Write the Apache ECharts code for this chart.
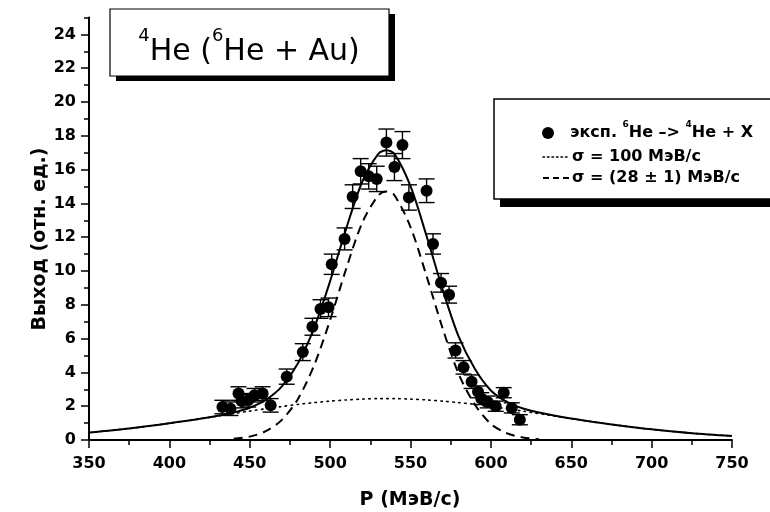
<!DOCTYPE html>
<html>
<head>
<meta charset="utf-8">
<script src="https://cdn.jsdelivr.net/npm/echarts@6/dist/echarts.min.js"></script>
<style>
  html, body { margin: 0; padding: 0; background: #ffffff; }
  #chart { width: 770px; height: 512px; }
</style>
</head>
<body>
<div id="chart"></div>
<script>
// Measured 4He momentum distribution: momentum (MeV/c), yield, yield uncertainty
const momentum = [433, 438, 443, 445, 449, 453, 458, 463, 473, 483, 489, 494, 499,
  501, 509, 514, 519, 524, 529, 535, 540, 545, 549, 560, 564, 569, 574, 578,
  583, 588, 592, 594, 598, 603, 608, 613, 618];
const yieldVal = [1.95, 1.85, 2.75, 2.3, 2.35, 2.65, 2.75, 2.05, 3.75, 5.2, 6.7, 7.75, 7.85,
  10.4, 11.9, 14.4, 15.9, 15.6, 15.45, 17.6, 16.15, 17.45, 14.35, 14.75, 11.6, 9.3, 8.6, 5.3,
  4.3, 3.45, 2.85, 2.45, 2.25, 2.0, 2.8, 1.9, 1.2];
const yieldErr = [0.4, 0.4, 0.4, 0.4, 0.4, 0.4, 0.4, 0.4, 0.45, 0.5, 0.5, 0.55, 0.55,
  0.6, 0.65, 0.7, 0.75, 0.75, 0.75, 0.8, 0.8, 0.8, 0.75, 0.7, 0.6, 0.55, 0.5, 0.45,
  0.4, 0.4, 0.35, 0.35, 0.35, 0.3, 0.3, 0.3, 0.3];

// Fit curves: total fit and the wide (sigma = 100) component on a common grid
const curveP = [350, 375, 400, 425, 440, 450, 460, 470, 480, 490, 500, 510, 520, 530, 535,
  540, 550, 560, 570, 580, 590, 600, 610, 620, 640, 660, 680, 700, 725, 750];
const fitTotal = [0.44, 0.68, 0.99, 1.34, 1.63, 1.91, 2.37, 3.17, 4.54, 6.62, 9.40, 12.51, 15.28, 16.93, 17.15,
  16.93, 15.02, 12.07, 8.90, 6.11, 4.21, 2.93, 2.25, 1.86, 1.43, 1.12, 0.86, 0.63, 0.40, 0.24];
const wideComp = [0.44, 0.68, 0.99, 1.34, 1.56, 1.71, 1.85, 1.98, 2.11, 2.21, 2.30, 2.37, 2.42, 2.45, 2.45,
  2.45, 2.42, 2.37, 2.30, 2.21, 2.11, 1.98, 1.85, 1.71, 1.41, 1.12, 0.86, 0.63, 0.40, 0.24];

// Narrow (sigma = 28) component
const narrowP = [440, 450, 460, 470, 480, 490, 500, 510, 520, 530, 535, 540, 550, 560, 570, 580, 590, 600, 610, 620, 630];
const narrowComp = [0.07, 0.20, 0.52, 1.19, 2.43, 4.41, 7.10, 10.14, 12.86, 14.48, 14.7, 14.48, 12.6, 9.7, 6.6, 3.9, 2.1, 0.95, 0.4, 0.15, 0.05];

// Axis ticks
const yMajorTicks = [0, 2, 4, 6, 8, 10, 12, 14, 16, 18, 20, 22, 24];
const yMinorTicks = [1, 3, 5, 7, 9, 11, 13, 15, 17, 19, 21, 23, 25];

const FONT = 'DejaVu Sans';
const zip = (a, b) => a.map((v, i) => [v, b[i]]);

const chart = echarts.init(document.getElementById('chart'), null, { renderer: 'canvas' });

const axisLine = { show: true, onZero: false, lineStyle: { color: '#000', width: 2 } };

chart.setOption({
  animation: false,
  backgroundColor: '#fff',
  grid: { left: 89, right: 38, top: 17.5, bottom: 72, containLabel: false, outerBoundsMode: 'none' },
  xAxis: {
    type: 'value', min: 350, max: 750, interval: 50,
    axisLine: axisLine,
    axisTick: { show: true, inside: false, length: 8, lineStyle: { color: '#000', width: 1.5 } },
    minorTick: { show: true, splitNumber: 2, length: 5, lineStyle: { color: '#000', width: 1.5 } },
    axisLabel: { fontFamily: FONT, fontWeight: 'bold', fontSize: 16, color: '#000', margin: 16 },
    splitLine: { show: false }, minorSplitLine: { show: false }
  },
  yAxis: [{
    type: 'value', min: 0, max: 25, interval: 2,
    axisLine: axisLine,
    axisTick: { show: true, length: 8, customValues: yMajorTicks, lineStyle: { color: '#000', width: 1.5 } },
    axisLabel: {
      fontFamily: FONT, fontWeight: 'bold', fontSize: 16, color: '#000', margin: 13,
      customValues: yMajorTicks,
      formatter: v => (v % 2 === 0 ? String(v) : '')
    },
    splitLine: { show: false }
  }, {
    type: 'value', min: 0, max: 25, position: 'left', offset: 0,
    axisLine: { show: false },
    axisTick: { show: true, length: 5, customValues: yMinorTicks, lineStyle: { color: '#000', width: 1.5 } },
    axisLabel: { show: false },
    splitLine: { show: false }
  }],
  series: [
    {
      name: 'wide', type: 'line', data: zip(curveP, wideComp), smooth: 0.3,
      showSymbol: false, symbol: 'none',
      lineStyle: { color: '#000', width: 1.6, type: [1.5, 4.5], cap: 'round' }, z: 2
    },
    {
      name: 'narrow', type: 'line', data: zip(narrowP, narrowComp), smooth: 0.3,
      showSymbol: false, symbol: 'none',
      lineStyle: { color: '#000', width: 2, type: [9, 6] }, z: 2
    },
    {
      name: 'fit', type: 'line', data: zip(curveP, fitTotal), smooth: 0.3,
      showSymbol: false, symbol: 'none',
      lineStyle: { color: '#000', width: 2 }, z: 3
    },
    {
      name: 'errors', type: 'custom',
      data: momentum.map((p, i) => [p, yieldVal[i], yieldErr[i]]),
      encode: { x: 0, y: 1 },
      renderItem: (params, api) => {
        const x = api.value(0), y = api.value(1), e = api.value(2);
        const top = api.coord([x, y + e]);
        const bot = api.coord([x, y - e]);
        const hw = 8;
        const st = { stroke: '#000', lineWidth: 1.4 };
        return {
          type: 'group',
          children: [
            { type: 'line', shape: { x1: top[0], y1: top[1], x2: bot[0], y2: bot[1] }, style: st },
            { type: 'line', shape: { x1: top[0] - hw, y1: top[1], x2: top[0] + hw, y2: top[1] }, style: st },
            { type: 'line', shape: { x1: bot[0] - hw, y1: bot[1], x2: bot[0] + hw, y2: bot[1] }, style: st }
          ]
        };
      },
      z: 4
    },
    {
      name: 'data', type: 'scatter', data: zip(momentum, yieldVal),
      symbol: 'circle', symbolSize: 12,
      itemStyle: { color: '#000', opacity: 1 }, z: 5
    }
  ],
  graphic: [
    // axis titles
    {
      type: 'text', x: 40, y: 239, rotation: Math.PI / 2, z: 12,
      style: {
        text: 'Выход (отн. ед.)', fontFamily: FONT, fontWeight: 'bold', fontSize: 19,
        fill: '#000', align: 'center', verticalAlign: 'middle'
      }
    },
    {
      type: 'text', x: 410, y: 500, z: 12,
      style: {
        text: 'P (МэВ/с)', fontFamily: FONT, fontWeight: 'bold', fontSize: 19,
        fill: '#000', align: 'center', verticalAlign: 'middle'
      }
    },
    // title box with drop shadow
    { type: 'rect', shape: { x: 116, y: 14, width: 279, height: 67 }, style: { fill: '#000' }, z: 10 },
    { type: 'rect', shape: { x: 110, y: 9, width: 279, height: 67 }, style: { fill: '#fff', stroke: '#000', lineWidth: 1.2 }, z: 11 },
    {
      type: 'text', x: 249, y: 52, z: 12,
      style: {
        text: '{s|4}He ({s|6}He + Au)',
        fontFamily: FONT, fontSize: 30, lineHeight: 50, fill: '#000',
        align: 'center', verticalAlign: 'middle',
        rich: { s: { fontFamily: FONT, fontSize: 18, lineHeight: 18, verticalAlign: 'top', fill: '#000' } }
      }
    },
    // legend box with drop shadow
    { type: 'rect', shape: { x: 500, y: 105, width: 285, height: 102 }, style: { fill: '#000' }, z: 10 },
    { type: 'rect', shape: { x: 494, y: 99, width: 285, height: 100 }, style: { fill: '#fff', stroke: '#000', lineWidth: 1.5 }, z: 11 },
    { type: 'circle', shape: { cx: 548, cy: 133, r: 6 }, style: { fill: '#000' }, z: 12 },
    {
      type: 'text', x: 570, y: 133, z: 12,
      style: {
        text: 'эксп. {s|6}He –> {s|4}He + X',
        fontFamily: FONT, fontWeight: 'bold', fontSize: 16, lineHeight: 25, fill: '#000',
        align: 'left', verticalAlign: 'middle',
        rich: { s: { fontFamily: FONT, fontWeight: 'bold', fontSize: 9, lineHeight: 9, verticalAlign: 'top', fill: '#000' } }
      }
    },
    {
      type: 'line', shape: { x1: 543, y1: 157, x2: 569, y2: 157 }, z: 12,
      style: { stroke: '#000', lineWidth: 1.6, lineDash: [1.5, 3], lineCap: 'round' }
    },
    {
      type: 'text', x: 572, y: 157, z: 12,
      style: { text: 'σ = 100 МэВ/с', fontFamily: FONT, fontWeight: 'bold', fontSize: 16, fill: '#000', align: 'left', verticalAlign: 'middle' }
    },
    {
      type: 'line', shape: { x1: 543, y1: 178, x2: 570, y2: 178 }, z: 12,
      style: { stroke: '#000', lineWidth: 2, lineDash: [6, 4] }
    },
    {
      type: 'text', x: 572, y: 178, z: 12,
      style: { text: 'σ = (28 ± 1) МэВ/с', fontFamily: FONT, fontWeight: 'bold', fontSize: 16, fill: '#000', align: 'left', verticalAlign: 'middle' }
    }
  ]
});
</script>
</body>
</html>
